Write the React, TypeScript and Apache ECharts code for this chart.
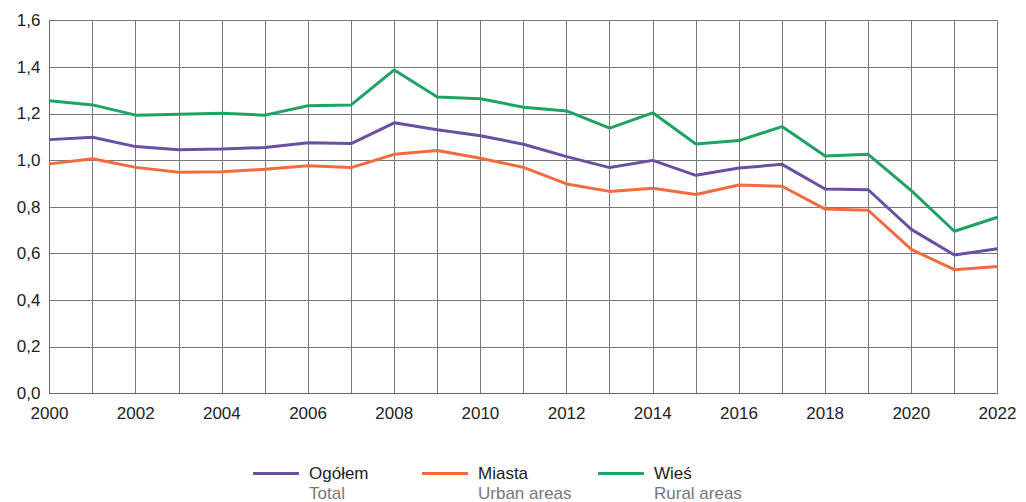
import React, { useEffect, useRef } from "react";
import * as echarts from "echarts";

const years = ["2000","2001","2002","2003","2004","2005","2006","2007","2008","2009","2010","2011","2012","2013","2014","2015","2016","2017","2018","2019","2020","2021","2022"];
const total = [1.089,1.099,1.059,1.046,1.049,1.055,1.076,1.072,1.161,1.131,1.106,1.069,1.016,0.969,1.000,0.936,0.967,0.983,0.877,0.874,0.704,0.594,0.621];
const urban = [0.985,1.007,0.970,0.949,0.951,0.962,0.977,0.969,1.026,1.042,1.009,0.970,0.899,0.867,0.880,0.854,0.894,0.889,0.791,0.786,0.618,0.531,0.545];
const rural = [1.256,1.238,1.194,1.198,1.202,1.194,1.234,1.238,1.388,1.272,1.264,1.228,1.212,1.138,1.204,1.070,1.085,1.145,1.019,1.026,0.870,0.696,0.756];
const seriesNames = ["Ogółem", "Miasta", "Wieś"];
const seriesSubNames = ["Total", "Urban areas", "Rural areas"];
const colors = ["#6a4fa3", "#f26b3f", "#1fa264"];

export default function App() {
  const ref = useRef<HTMLDivElement>(null);
  useEffect(() => {
    if (!ref.current) return;
    const chart = echarts.init(ref.current, null, { renderer: "svg" });
    const font = "'Liberation Sans', Arial, sans-serif";
    const legendX = [253, 422, 598];
    const legendGraphics: any[] = [];
    seriesNames.forEach((n, i) => {
      legendGraphics.push({
        type: "line",
        shape: { x1: legendX[i], y1: 473.5, x2: legendX[i] + 46, y2: 473.5 },
        style: { stroke: colors[i], lineWidth: 3 },
      });
      legendGraphics.push({
        type: "text",
        x: legendX[i] + 56,
        y: 473.5,
        style: { text: n, fill: "#222", font: `17px ${font}`, textVerticalAlign: "middle", verticalAlign: "middle" },
      });
      legendGraphics.push({
        type: "text",
        x: legendX[i] + 56,
        y: 493,
        style: { text: seriesSubNames[i], fill: "#777", font: `17px ${font}`, textVerticalAlign: "middle", verticalAlign: "middle" },
      });
    });
    const data = [total, urban, rural];
    chart.setOption({
      animation: false,
      backgroundColor: "#fff",
      grid: { left: 49.5, right: 28.5, top: 20.5, bottom: 108.5, containLabel: false },
      xAxis: {
        type: "category",
        data: years,
        boundaryGap: false,
        axisLine: { lineStyle: { color: "#666", width: 1 } },
        axisTick: { show: false },
        axisLabel: { interval: 1, color: "#222", fontSize: 17, fontFamily: font, margin: 11 },
        splitLine: { show: true, interval: 0, lineStyle: { color: "#777", width: 1 } },
      },
      yAxis: {
        type: "value",
        min: 0,
        max: 1.6,
        interval: 0.2,
        axisLine: { show: true, lineStyle: { color: "#666", width: 1 } },
        axisTick: { show: false },
        axisLabel: {
          color: "#222",
          fontSize: 17,
          fontFamily: font,
          margin: 9,
          formatter: (v: number) => v.toFixed(1).replace(".", ","),
        },
        splitLine: { show: true, lineStyle: { color: "#777", width: 1 } },
      },
      series: data.map((d, i) => ({
        type: "line",
        name: seriesNames[i],
        data: d,
        symbol: "none",
        lineStyle: { color: colors[i], width: 3 },
        itemStyle: { color: colors[i] },
        z: 3 + (2 - i),
      })),
      graphic: legendGraphics,
    });
    return () => chart.dispose();
  }, []);
  return <div ref={ref} style={{ position: "fixed", left: 0, top: 0, width: 1026, height: 502 }} />;
}
